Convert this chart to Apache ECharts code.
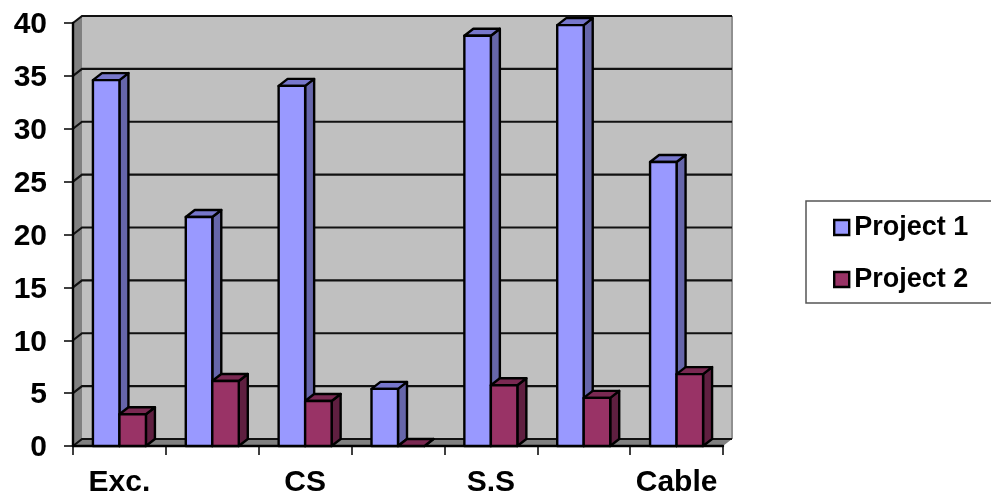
<!DOCTYPE html>
<html>
<head>
<meta charset="utf-8">
<style>html,body{margin:0;padding:0;background:#fff;overflow:hidden}#chart{width:991px;height:496px}</style>
<script src="https://cdn.jsdelivr.net/npm/echarts@6/dist/echarts.min.js"></script>
</head>
<body>
<div id="chart"></div>
<script>
// Work packages compared across two projects
const categories = ['Exc.', '', 'CS', '', 'S.S', '', 'Cable'];
const project1 = [34.6, 21.65, 34.05, 5.4, 38.8, 39.8, 26.85];
const project2 = [3.0, 6.15, 4.25, 0, 5.75, 4.55, 6.8];
const yTicks = [0, 5, 10, 15, 20, 25, 30, 35, 40];

// Oblique offset used for the extruded look of walls and bars
const DEPTH_X = 9;
const DEPTH_Y = 7;
const BAR_WIDTH = 26.5;
const FONT = '"Liberation Sans", Arial, sans-serif';

const toPairs = values => values.map((v, i) => [i, v]);

// Side wall, floor and back wall; the horizontal rules are added per tick
function renderWalls(params, api) {
  const c = params.coordSys;
  const l = c.x, r = c.x + c.width, t = c.y, b = c.y + c.height;
  const poly = (points, fill) => ({
    type: 'polygon', shape: { points },
    style: { fill, stroke: 'none' }
  });
  return {
    type: 'group',
    children: [
      poly([[l + DEPTH_X, t - DEPTH_Y], [r + DEPTH_X, t - DEPTH_Y], [r + DEPTH_X, b - DEPTH_Y], [l + DEPTH_X, b - DEPTH_Y]], '#c0c0c0'),
      poly([[l, t], [l + DEPTH_X, t - DEPTH_Y], [l + DEPTH_X, b - DEPTH_Y], [l, b]], '#808080'),
      poly([[l, b], [l + DEPTH_X, b - DEPTH_Y], [r + DEPTH_X, b - DEPTH_Y], [r, b]], '#808080'),
      {
        type: 'line',
        shape: { x1: r + DEPTH_X, y1: t - DEPTH_Y, x2: r + DEPTH_X, y2: b - DEPTH_Y },
        style: { stroke: '#909090', lineWidth: 2 }
      }
    ]
  };
}

function renderGridRule(params, api) {
  const c = params.coordSys;
  const y = api.coord([0, api.value(0)])[1];
  return {
    type: 'polyline',
    shape: { points: [[c.x, y], [c.x + DEPTH_X, y - DEPTH_Y], [c.x + c.width + DEPTH_X, y - DEPTH_Y]] },
    style: { fill: 'none', stroke: '#111', lineWidth: 2.2 }
  };
}

// Draws one extruded bar: front, right side and top faces
function barRenderer(seriesOffset, faces) {
  return function (params, api) {
    const center = api.coord([api.value(0), 0])[0];
    const base = api.coord([0, 0])[1];
    const top = api.coord([0, api.value(1)])[1];
    const x0 = center + seriesOffset * BAR_WIDTH;
    const x1 = x0 + BAR_WIDTH;
    const edge = { stroke: '#000', lineWidth: 2.4, lineJoin: 'round' };
    const children = [
      {
        type: 'polygon',
        shape: { points: [[x1, top], [x1 + DEPTH_X, top - DEPTH_Y], [x1 + DEPTH_X, base - DEPTH_Y], [x1, base]] },
        style: Object.assign({ fill: faces.side }, edge)
      },
      {
        type: 'polygon',
        shape: { points: [[x0, top], [x0 + DEPTH_X, top - DEPTH_Y], [x1 + DEPTH_X, top - DEPTH_Y], [x1, top]] },
        style: Object.assign({ fill: faces.top }, edge)
      }
    ];
    if (base > top) {
      children.push({
        type: 'rect',
        shape: { x: x0, y: top, width: BAR_WIDTH, height: base - top },
        style: Object.assign({ fill: faces.front }, edge)
      });
    }
    return { type: 'group', children };
  };
}

const chart = echarts.init(document.getElementById('chart'), null, { renderer: 'canvas' });
chart.setOption({
  animation: false,
  backgroundColor: '#fff',
  grid: { left: 73, top: 23, width: 650, height: 423, outerBoundsMode: 'none' },
  legend: {
    data: ['Project 1', 'Project 2'],
    orient: 'vertical',
    left: 806,
    top: 201,
    padding: [13, 40, 10, 27],
    itemGap: 25,
    itemWidth: 15,
    itemHeight: 15,
    icon: 'rect',
    borderColor: '#555',
    borderWidth: 1.5,
    backgroundColor: '#fff',
    itemStyle: { borderColor: '#000', borderWidth: 2.4 },
    textStyle: { fontFamily: FONT, fontWeight: 'bold', fontSize: 27, color: '#000', padding: 0 }
  },
  xAxis: {
    type: 'category',
    data: categories,
    z: 3,
    axisLine: { lineStyle: { color: '#000', width: 2.4 } },
    axisTick: { show: true, length: 9, alignWithLabel: false, lineStyle: { color: '#000', width: 1.5 } },
    axisLabel: {
      interval: 0, margin: 22,
      fontFamily: FONT, fontWeight: 'bold', fontSize: 30, color: '#000'
    },
    splitLine: { show: false }
  },
  yAxis: {
    type: 'value',
    min: 0,
    max: 40,
    interval: 5,
    z: 3,
    axisLine: { show: true, lineStyle: { color: '#000', width: 2.4 } },
    axisTick: { show: true, length: 9, lineStyle: { color: '#000', width: 1.5 } },
    axisLabel: {
      margin: 26,
      formatter: '{tick|{value}}',
      rich: {
        tick: {
          padding: [4, 0, 0, 0],
          fontFamily: FONT, fontWeight: 'bold', fontSize: 30, color: '#000'
        }
      }
    },
    splitLine: { show: false }
  },
  series: [
    {
      name: 'walls', type: 'custom', z: 1, silent: true,
      renderItem: renderWalls, data: [[0]], encode: { y: 0 }
    },
    {
      name: 'rules', type: 'custom', z: 2, silent: true,
      renderItem: renderGridRule, data: yTicks.map(v => [v]), encode: { y: 0 }
    },
    {
      name: 'Project 1', type: 'custom', z: 4,
      itemStyle: { color: '#9999ff' },
      renderItem: barRenderer(-1, { front: '#9999ff', side: '#6666aa', top: '#7777cc' }),
      data: toPairs(project1), encode: { x: 0, y: 1 }
    },
    {
      name: 'Project 2', type: 'custom', z: 5,
      itemStyle: { color: '#993366' },
      renderItem: barRenderer(0, { front: '#993366', side: '#5f1f40', top: '#7a2952' }),
      data: toPairs(project2), encode: { x: 0, y: 1 }
    }
  ]
});
</script>
</body>
</html>
